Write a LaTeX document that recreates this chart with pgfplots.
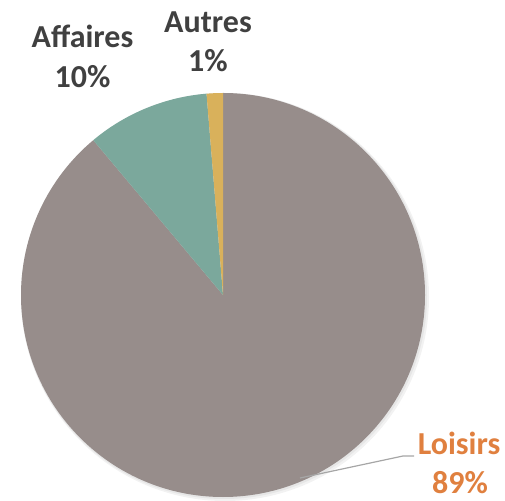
\documentclass[border=0pt]{standalone}
\usepackage{pgfplots}
\usepackage{pgfplotstable}
\pgfplotsset{compat=1.18}
\usepackage{fontspec}
\setmainfont{Carlito}
\definecolor{cLoisirs}{HTML}{978D8B}
\definecolor{cAffaires}{HTML}{7BA89C}
\definecolor{cAutres}{HTML}{D9B15B}
\definecolor{txtdark}{HTML}{404040}
\definecolor{txtorange}{HTML}{E0803F}
\definecolor{leader}{HTML}{A6A6A6}
\pgfplotstableread{
name value
Loisirs 88.9
Affaires 9.8
Autres 1.3
}\piedata
\begin{document}
\begin{tikzpicture}
\pgfplotstablegetelem{0}{value}\of\piedata \pgfmathsetmacro\va{\pgfplotsretval}
\pgfplotstablegetelem{1}{value}\of\piedata \pgfmathsetmacro\vb{\pgfplotsretval}
\pgfplotstablegetelem{2}{value}\of\piedata \pgfmathsetmacro\vc{\pgfplotsretval}
\pgfmathsetmacro\aA{90}
\pgfmathsetmacro\aB{90-3.6*\va}
\pgfmathsetmacro\aC{\aB-3.6*\vb}
\pgfmathsetmacro\aD{\aC-3.6*\vc}
\begin{axis}[
  width=505pt, height=500pt, scale only axis,
  xmin=0, xmax=505, ymin=0, ymax=500,
  hide axis, clip=false,
]
\path[use as bounding box] (axis cs:0,0) rectangle (axis cs:505,500);
% soft shadow
\fill[black, opacity=0.05] (axis cs:225,203) circle[radius=204pt];
\fill[black, opacity=0.05] (axis cs:224,204) circle[radius=203pt];
\fill[cLoisirs] (axis cs:223,205) -- ++(\aA:202pt) arc[start angle=\aA, end angle=\aB, radius=202pt] -- cycle;
\fill[cAffaires] (axis cs:223,205) -- ++(\aB:202pt) arc[start angle=\aB, end angle=\aC, radius=202pt] -- cycle;
\fill[cAutres] (axis cs:223,205) -- ++(\aC:202pt) arc[start angle=\aC, end angle=\aD, radius=202pt] -- cycle;
% leader line
\draw[leader, line width=1.2pt] (axis cs:300,22) -- (axis cs:403,44) -- (axis cs:414,44);
% labels
\tikzset{lbl/.style={anchor=base, inner sep=0pt, font=\fontsize{32}{38}\selectfont\bfseries}}
\node[lbl, text=txtdark] at (axis cs:82.5,452) {Affaires};
\node[lbl, text=txtdark] at (axis cs:82.5,412) {10\%};
\node[lbl, text=txtdark] at (axis cs:208,467) {Autres};
\node[lbl, text=txtdark] at (axis cs:208,428) {1\%};
\node[lbl, text=txtorange] at (axis cs:459,46) {Loisirs};
\node[lbl, text=txtorange] at (axis cs:460,7) {89\%};
\end{axis}
\end{tikzpicture}
\end{document}
